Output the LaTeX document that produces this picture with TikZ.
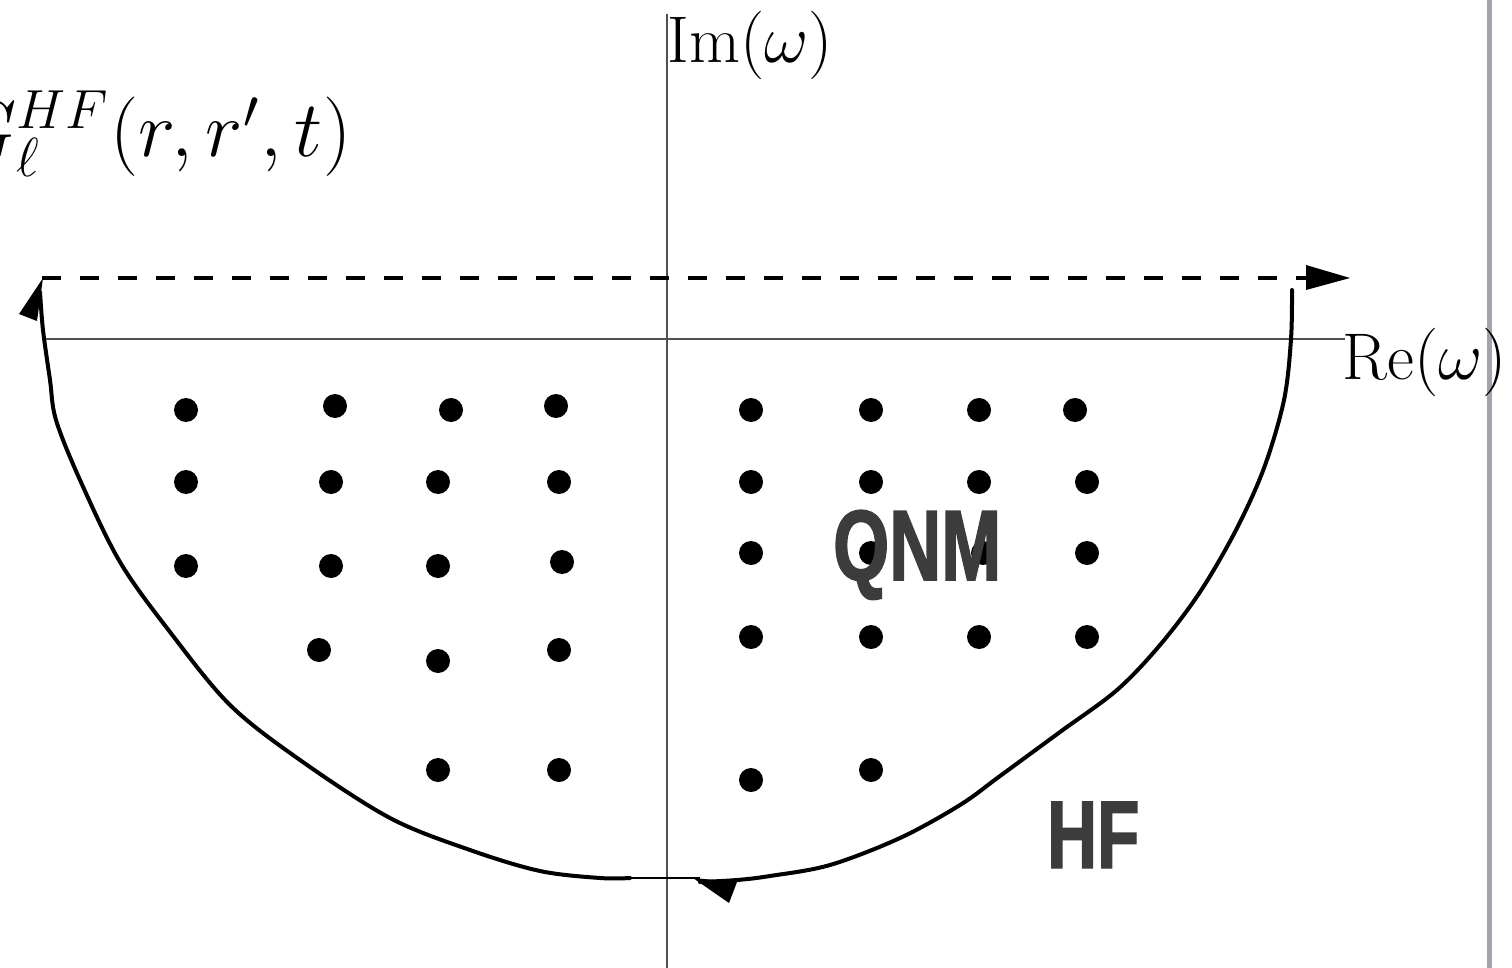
\documentclass[tikz,border=0pt]{standalone}
\usepackage{fontspec}
\newfontfamily\labfont[FakeStretch=0.72, FakeBold=1.5]{Liberation Sans Bold}
\definecolor{labgray}{HTML}{3C3C3C}
\definecolor{axisgray}{HTML}{505050}
\definecolor{edgegray}{HTML}{A3A3AB}
\tikzset{
  axis/.style={draw=axisgray, line width=1.3pt},
  contour/.style={draw=black, line width=4pt, line cap=round, line join=round},
  pole/.style={fill=black, circle, inner sep=0pt, minimum size=24pt},
  mathlab/.style={font=\fontsize{20}{24}\selectfont, inner sep=0pt, scale=3.3},
  biglab/.style={font=\fontsize{100}{100}\selectfont\labfont, text=labgray, inner sep=0pt},
}
\begin{document}
\begin{tikzpicture}[x=1pt,y=-1pt]
\useasboundingbox (0,0) rectangle (1512,968);
% right edge line
\fill[edgegray] (1486.5,0) rectangle (1491.5,968);
% axes
\coordinate (ytop) at (667,14);
\coordinate (ybot) at (667,968);
\coordinate (xl) at (42,339);
\coordinate (xr) at (1345,339);
\draw[axis] (ytop) -- (ybot);
\draw[axis] (xl) -- (xr);
\node[mathlab, anchor=base west] (im) at (667,63) {$\mathrm{Im}(\omega)$};
\node[mathlab, anchor=base west] (re) at (1342,379) {$\mathrm{Re}(\omega)$};
\node[mathlab, scale=1.16, anchor=base east] (g) at (352,157) {$G_\ell^{HF}(r,r',t)$};
% dashed line
\coordinate (dl) at (42,278);
\coordinate (dr) at (1306,278);
\draw[line width=4pt, dash pattern=on 19pt off 19pt] (dl) -- (dr);
\fill (1306,265) -- (1350,278) -- (1306,290) -- cycle;
% contour right
\draw[contour] plot[smooth, tension=0.55] coordinates {
 (1292,290) (1291,339) (1284,400) (1264,468) (1236,530) (1200,592) (1160,645)
 (1117,690) (1060,732) (1000,776) (960,805) (900,838) (830,865) (770,876) (737,880) (700,882)};
% contour left
\draw[contour] plot[smooth, tension=0.55] coordinates {
 (630,878) (600,878) (540,871) (470,850) (390,818) (300,760) (230,705)
 (170,632) (120,562) (80,480) (56,420) (50,380) (43,330) (40,292)};
% thin joining segment
\draw[line width=1.3pt] (630,878) -- (700,878);
% arrowheads
\fill (43,278) -- (19,314) -- (37,321) -- cycle;
\fill (693,878) -- (737,882) -- (729,903) -- cycle;
% poles
\foreach \x/\y [count=\i] in {
 186/410, 335/406, 451/410, 556/406, 751/410, 871/410, 979/410, 1075/410,
 186/482, 331/482, 438/482, 559/482, 751/482, 871/482, 979/482, 1087/482,
 186/566, 331/566, 438/566, 562/562, 751/553, 871/553, 983/553, 1087/553,
 319/650, 438/661, 559/650, 751/637, 871/637, 979/637, 1087/637,
 438/770, 559/770, 751/780, 871/770}
  \node[pole] (p\i) at (\x,\y) {};
% labels
\node[biglab, anchor=base west] (qnm) at (833,580) {QNM};
\node[biglab, font=\fontsize{96}{96}\selectfont\labfont, anchor=base west] (hf) at (1047,868) {HF};
\end{tikzpicture}
\end{document}
